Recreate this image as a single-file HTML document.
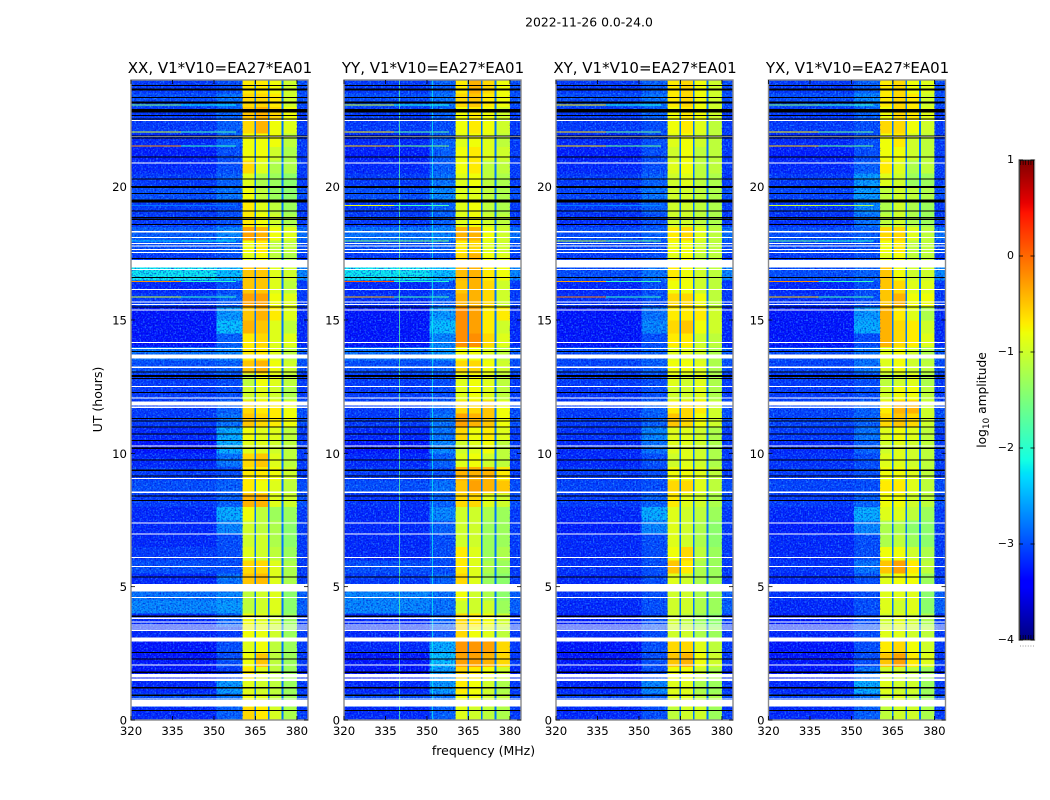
<!DOCTYPE html>
<html>
<head>
<meta charset="utf-8">
<title>2022-11-26 0.0-24.0</title>
<style>
html,body{margin:0;padding:0;background:#fff;}
svg{display:block;}
text{font-family:"DejaVu Sans","Liberation Sans",sans-serif;fill:#000;}
</style>
</head>
<body>
<svg id="chart" xmlns="http://www.w3.org/2000/svg" width="1050" height="800" viewBox="0 0 1050 800">
<defs>
<filter id="speckleLight" x="0" y="0" width="1" height="1"><feTurbulence type="fractalNoise" baseFrequency="0.6" numOctaves="1" seed="4"/><feColorMatrix type="matrix" values="0 0 0 0 0.05  0 0 0 0 0.5  0 0 0 0 1  2.6 0 0 0 -1.2"/></filter>
<filter id="speckleDark" x="0" y="0" width="1" height="1"><feTurbulence type="fractalNoise" baseFrequency="0.6" numOctaves="1" seed="11"/><feColorMatrix type="matrix" values="0 0 0 0 0  0 0 0 0 0  0 0 0 0 0.6  2.6 0 0 0 -1.2"/></filter>
</defs>
<text x="589" y="26.5" font-size="12.4" text-anchor="middle">2022-11-26 0.0-24.0</text>
<text x="483.5" y="755" font-size="12.5" text-anchor="middle">frequency (MHz)</text>
<text x="102" y="399.5" font-size="12.5" text-anchor="middle" transform="rotate(-90 102 399.5)">UT (hours)</text>
<text x="986" y="400" font-size="12.2" text-anchor="middle" transform="rotate(-90 986 400)">log<tspan font-size="9" dy="3">10</tspan><tspan dy="-3"> amplitude</tspan></text>
<g id="panels"></g>
<g id="colorbar"></g>
</svg>
<script>
// Axis domains and tick labels
const xTicks = [320, 335, 350, 365, 380];
const yTicks = [0, 5, 10, 15, 20];
const colorbarTicks = [-4, -3, -2, -1, 0, 1];
const panelTitles = ['XX, V1*V10=EA27*EA01', 'YY, V1*V10=EA27*EA01', 'XY, V1*V10=EA27*EA01', 'YX, V1*V10=EA27*EA01'];
const panelNames = ['xx', 'yy', 'xy', 'yx'];

// Frequency bin edges in MHz: low, blob, b1, gap, b2, gap, b3, gap, b4, edge
const bandEdges = [320, 351, 360.4, 364.6, 365.2, 369.5, 370.1, 374.5, 375.1, 380, 384];
const gapLevel = -2.8;
// Calibration applied to the low-amplitude and bright sub-band readings
const lowBandOffset = -0.1;
const brightBandOffset = -0.1;
// Each time row is 0.5 hours; index 0 starts at UT 0
const rowHours = 0.5;

const xxLow = [-3.1,-2.9,-3.1,-3.2,-3.2,-3.2,-3.1,-3.1,-2.6,-2.7,-3.1,-2.9,-3,-3.1,-3.1,-3.1,-3,-2.9,-3,-3.1,-3.2,-3.1,-3,-3,-3,-3,-2.9,-2.7,-3.2,-3.2,-3.2,-3,-3.1,-2.1,-3,-2.9,-2.8,-3,-3,-2.9,-3,-3.1,-3.15,-3.1,-3,-3,-2.9,-3];
const xxBlob = [-2.9,-2.8,-2.6,-3.1,-3,-3,-3.1,-2.9,-2.6,-2.7,-2.8,-3,-3,-3,-2.7,-2.5,-2.9,-2.9,-3,-2.8,-2.5,-2.5,-2.8,-2.9,-3,-3,-2.9,-2.7,-2.9,-2.4,-2.6,-2.9,-3,-2.4,-3,-2.9,-2.7,-3,-3,-2.8,-2.9,-3,-3,-2.9,-2.9,-2.9,-2.8,-3];
const xxB1 = [-0.5,-0.7,-0.8,-0.6,-0.7,-0.8,-0.7,-0.7,-1,-1,-0.4,-0.5,-0.8,-0.9,-0.9,-0.7,-0.3,-0.6,-0.6,-0.5,-0.8,-0.7,-0.4,-0.5,-0.9,-1,-0.4,-0.6,-0.6,-0.3,-0.4,-0.2,-0.4,-0.4,-0.8,-0.7,-0.2,-0.6,-0.6,-0.7,-0.8,-0.5,-0.7,-0.7,-0.5,-0.4,-0.5,-0.6];
const xxB2 = [-0.6,-0.8,-0.9,-0.8,-0.4,-0.7,-0.75,-0.8,-0.9,-0.9,-0.35,-0.5,-0.9,-0.9,-1,-1,-0.3,-0.7,-0.6,-0.4,-0.8,-0.8,-0.5,-0.6,-0.8,-0.7,-0.3,-0.6,-0.5,-0.4,-0.3,-0.2,-0.4,-0.4,-0.7,-0.6,-0.3,-0.7,-0.8,-1,-1.1,-0.8,-0.7,-0.7,-0.3,-0.3,-0.5,-0.6];
const xxB3 = [-0.85,-1,-1,-1,-1,-1,-0.9,-0.9,-0.8,-0.8,-0.8,-0.8,-1,-1.1,-1.1,-1.2,-0.8,-0.8,-0.7,-0.8,-0.9,-0.8,-0.6,-0.6,-0.9,-0.8,-0.7,-0.8,-0.8,-0.8,-0.6,-0.7,-0.8,-0.8,-1,-1,-0.7,-0.9,-1,-1.2,-1.2,-1.1,-0.9,-0.7,-0.7,-0.5,-0.6,-0.7];
const xxB4 = [-1.1,-1.2,-1.2,-1.2,-1.2,-1.2,-1.2,-1.2,-1.3,-1.3,-1.1,-1.1,-1.2,-1.3,-1.3,-1.2,-0.9,-1,-0.9,-1,-1,-1,-0.7,-0.7,-1.1,-1,-0.9,-1,-0.8,-1,-0.8,-0.8,-1,-0.9,-1.1,-1,-0.8,-1.1,-1.2,-1.3,-1.3,-1.1,-1.1,-1,-0.8,-0.7,-0.9,-0.9];

const yyLow = [-3.1,-2.9,-3.1,-3.2,-3.2,-3.1,-3.1,-3.1,-2.6,-2.6,-3,-2.9,-3.1,-3.1,-3.1,-3.1,-3.05,-2.9,-3,-3.1,-3.2,-3.1,-3,-3,-3,-3,-2.9,-2.7,-3.2,-3.2,-3.2,-3.05,-3.1,-2.1,-3,-2.9,-2.7,-3,-3,-2.9,-3,-3.1,-3.15,-3.1,-3,-3,-2.9,-3];
const yyBlob = [-2.9,-2.8,-2.6,-2.6,-2.4,-2.5,-3,-2.9,-2.8,-2.8,-2.9,-3,-3,-3,-2.9,-2.7,-2.9,-2.8,-3,-2.9,-2.7,-2.8,-2.8,-2.9,-3,-3,-2.9,-2.6,-2.7,-2.4,-2.6,-2.9,-3,-2.4,-3,-2.9,-2.7,-2.9,-2.9,-2.7,-2.8,-2.9,-2.9,-2.9,-3,-2.9,-2.8,-2.9];
const yyB1 = [-0.8,-0.7,-0.6,-0.5,-0.2,-0.15,-0.5,-0.5,-0.9,-0.7,-0.5,-0.6,-0.6,-0.9,-0.9,-0.9,-0.5,-0.4,-0.3,-0.8,-0.9,-0.5,-0.2,-0.5,-0.8,-0.8,-0.5,-0.7,-0.1,-0.1,-0.1,-0.3,-0.4,-0.35,-0.5,-0.6,-0.3,-0.8,-0.8,-0.8,-0.8,-0.7,-0.7,-0.8,-0.7,-0.7,-0.5,-0.6];
const yyB2 = [-0.9,-0.7,-0.7,-0.6,-0.2,-0.15,-0.7,-0.6,-0.9,-0.9,-0.8,-0.8,-0.8,-0.9,-0.9,-0.9,-0.5,-0.2,-0.3,-0.7,-0.8,-0.7,-0.3,-0.5,-0.7,-0.7,-0.5,-0.7,-0.1,-0.2,-0.2,-0.3,-0.3,-0.3,-0.3,-0.5,-0.3,-0.7,-0.7,-0.8,-0.7,-0.6,-0.6,-0.7,-0.6,-0.6,-0.4,-0.3];
const yyB3 = [-1,-0.9,-0.9,-0.7,-0.3,-0.2,-0.8,-0.7,-0.9,-1.1,-1.2,-1.1,-1.2,-1.2,-1.2,-1.1,-0.8,-0.3,-0.3,-0.9,-0.7,-0.6,-0.4,-0.4,-0.8,-0.8,-0.7,-0.8,-0.5,-0.6,-0.6,-0.5,-0.5,-0.6,-0.7,-0.8,-0.7,-0.9,-1,-1,-1,-1,-0.8,-0.8,-0.7,-0.7,-0.6,-0.5];
const yyB4 = [-1.1,-1,-1.1,-0.9,-0.5,-0.5,-1,-0.9,-1.2,-1.3,-1.3,-1.2,-1.1,-1.2,-1.2,-1.2,-0.9,-0.4,-0.6,-1,-1,-0.8,-0.7,-0.7,-1,-1,-0.9,-1,-0.8,-0.9,-0.6,-0.9,-0.9,-0.7,-0.8,-0.9,-0.9,-1,-1.1,-1.1,-1.1,-1,-0.9,-1,-0.9,-0.9,-0.7,-0.7];

const xyLow = [-3.1,-2.95,-3.1,-3.2,-3.2,-3.2,-3.1,-3.15,-3.1,-3.05,-3.1,-3.05,-3.1,-3.1,-3.15,-3.1,-3,-2.95,-3,-3.1,-3.1,-3.05,-3,-3,-3.05,-3,-2.95,-2.9,-3.2,-3.2,-3.2,-3.05,-3.1,-2.9,-3,-2.95,-2.9,-3.05,-3,-2.95,-3,-3.1,-3.15,-3.1,-3,-3,-2.9,-3];
const xyBlob = [-3,-2.9,-2.7,-3,-3,-3,-3,-3,-3,-3,-3,-3,-3,-3,-2.7,-2.5,-2.9,-3,-3,-3,-2.8,-2.7,-2.9,-2.9,-3,-3,-2.9,-2.9,-3,-2.7,-2.8,-3,-3,-2.8,-3,-3,-2.9,-3,-2.9,-2.8,-2.9,-3,-3,-3,-3,-2.9,-2.8,-2.9];
const xyB1 = [-1,-0.8,-0.8,-0.7,-0.4,-0.5,-0.9,-0.9,-0.9,-0.9,-0.8,-0.4,-0.7,-0.8,-0.8,-0.8,-0.6,-0.5,-0.7,-0.9,-0.8,-0.8,-0.4,-0.6,-0.9,-0.8,-0.7,-0.8,-0.6,-0.5,-0.6,-0.5,-0.7,-0.6,-0.8,-0.7,-0.6,-0.9,-0.9,-0.9,-0.9,-0.8,-0.9,-0.8,-0.7,-0.7,-0.6,-0.6];
const xyB2 = [-0.9,-0.8,-0.8,-0.7,-0.3,-0.5,-0.9,-1,-0.9,-0.9,-0.9,-0.6,-0.5,-0.9,-0.9,-0.9,-0.8,-0.5,-0.7,-0.8,-0.8,-0.8,-0.5,-0.5,-0.9,-0.9,-0.7,-0.8,-0.6,-0.4,-0.6,-0.5,-0.7,-0.7,-0.7,-0.7,-0.5,-0.9,-0.9,-0.9,-0.8,-0.7,-0.7,-0.7,-0.6,-0.6,-0.5,-0.5];
const xyB3 = [-0.9,-1,-1.1,-0.9,-0.7,-0.8,-1.1,-1.2,-1.1,-1.1,-1.1,-1.1,-1,-1.1,-1.1,-1,-0.9,-0.8,-0.8,-0.9,-0.9,-0.9,-0.7,-0.6,-0.8,-0.8,-0.8,-0.9,-0.9,-0.7,-0.6,-0.7,-0.9,-0.9,-1,-0.9,-0.8,-1,-1,-1,-1,-1,-1,-0.9,-0.8,-0.7,-0.7,-0.7];
const xyB4 = [-1.2,-1.1,-1.2,-1.1,-0.9,-1,-1.2,-1.3,-1.2,-1.2,-1.2,-1.2,-1.2,-1.3,-1.3,-1.2,-1.1,-1,-1,-1.1,-1.1,-1.1,-0.9,-0.9,-1.1,-1.1,-1.1,-1.1,-1,-0.9,-0.9,-1,-1,-1,-1,-1,-1,-1.1,-1.1,-1.1,-1.1,-1,-1,-1,-1,-0.9,-0.9,-0.9];

const yxLow = [-3.1,-2.95,-3.1,-3.2,-3.2,-3.2,-3.1,-3.15,-3.1,-3.05,-3.1,-3.05,-3.1,-3.1,-3.15,-3.1,-3,-2.95,-3,-3.05,-3.1,-3,-2.95,-2.95,-3,-3,-2.95,-2.9,-3.2,-3.2,-3.2,-3.05,-3.1,-2.9,-3,-2.95,-2.9,-3.05,-3,-2.95,-3,-3.1,-3.15,-3.1,-3,-3,-2.9,-3];
const yxBlob = [-2.9,-2.8,-2.5,-2.8,-3,-3,-3,-3,-3,-3,-3,-2.8,-3,-3,-2.7,-2.5,-2.9,-3,-3,-3,-2.9,-2.8,-2.9,-2.9,-3,-3,-2.8,-2.8,-3,-2.5,-2.6,-3,-3,-2.9,-3,-3,-2.9,-2.8,-2.7,-2.6,-2.6,-2.9,-3,-3,-3,-2.9,-2.7,-2.9];
const yxB1 = [-1,-0.9,-0.8,-0.9,-0.4,-0.6,-0.8,-0.9,-0.8,-0.8,-0.8,-0.4,-0.7,-1.1,-1.1,-0.8,-0.7,-0.6,-0.7,-0.8,-0.9,-0.8,-0.5,-0.6,-0.9,-1,-0.8,-0.8,-0.3,-0.3,-0.3,-0.4,-0.4,-0.4,-0.8,-0.7,-0.5,-1,-1.1,-1,-0.8,-0.6,-0.7,-0.7,-0.5,-0.7,-0.6,-0.6];
const yxB2 = [-0.9,-0.8,-0.9,-0.9,-0.2,-0.5,-0.8,-0.8,-0.9,-0.8,-0.7,-0.2,-0.7,-1,-1.1,-0.8,-0.7,-0.6,-0.7,-0.8,-0.8,-0.7,-0.4,-0.3,-0.7,-0.9,-0.7,-0.7,-0.5,-0.5,-0.6,-0.3,-0.5,-0.7,-0.7,-0.6,-0.5,-0.9,-0.9,-0.9,-0.9,-0.8,-0.7,-0.6,-0.5,-0.5,-0.5,-0.5];
const yxB3 = [-0.9,-1,-0.9,-1,-0.6,-0.7,-0.9,-0.9,-0.8,-0.8,-0.7,-0.6,-0.9,-1.2,-1.3,-1,-0.9,-0.8,-0.8,-0.9,-0.9,-0.8,-0.5,-0.3,-0.7,-0.8,-0.9,-0.9,-0.6,-0.6,-0.8,-0.7,-0.8,-0.9,-1,-1,-0.8,-1.1,-1.1,-1,-1.2,-1.1,-0.9,-0.9,-0.7,-0.6,-0.6,-0.7];
const yxB4 = [-1.1,-1.2,-1.2,-1.2,-0.8,-0.9,-1,-1.1,-1.3,-1.3,-1.2,-1,-1.1,-1.3,-1.3,-1.2,-1,-1,-1,-1,-1,-1,-0.9,-0.9,-1,-1.1,-1,-1.1,-0.8,-0.9,-1.1,-0.7,-0.8,-0.9,-1,-1,-1,-1.2,-1.2,-1.1,-1.2,-1,-1,-1,-0.9,-0.8,-0.9,-0.8];

const edgeLevels = [-3,-2.9,-3,-3.1,-3,-3,-3,-3,-2.8,-2.8,-3,-3,-3,-3,-3,-3,-2.9,-2.9,-3,-3,-3,-3,-2.9,-2.9,-3,-3,-2.9,-2.8,-3.1,-3.1,-3.1,-3,-3,-2.6,-3,-2.9,-2.7,-3,-3,-2.9,-3,-3,-3,-3,-3,-3,-2.9,-2.9];

// Narrowband RFI rows: UT hour, amplitude in 320-338 MHz and 338-358 MHz
const rfiHours = [23.06, 22.05, 21.52, 19.3, 17.97, 16.44, 15.87];
const xxRfiLeft = [-1.5,-1,-0.2,-2.8,-2.4,-0.2,-1];
const xxRfiRight = [-2.2,-1.8,-1.9,-2.8,-2.2,-2,-1.9];
const yyRfiLeft = [-1,-0.7,-0.5,-0.8,-1.5,0.1,-0.4];
const yyRfiRight = [-2.1,-1.7,-1.5,-1.8,-1.5,-2,-1.8];
const xyRfiLeft = [-0.7,-0.6,-0.6,-2.8,-1.1,-0.3,-0.1];
const xyRfiRight = [-2.1,-1.6,-1.6,-2.7,-1.6,-1.9,-1.9];
const yxRfiLeft = [-1.5,-0.7,-0.5,-1,-1.7,-0.2,-0.5];
const yxRfiRight = [-1.9,-1.6,-1.6,-1.2,-2,-1.9,-1.8];
const rfiSplitsMHz = [320, 338, 358];

// Persistent vertical RFI in YY only
const yyVerticalFreqs = [339.9, 351.8];
const yyVerticalLevels = [-1.7, -2.2];

// Flagged (no data) time ranges [start, end] in UT hours
const flaggedHours = [[22.47,22.5],[21.86,21.9],[20.89,20.91],[18.29,18.33],[18.07,18.11],[17.85,17.89],[17.76,17.79],[17.63,17.66],[17.52,17.55],[16.96,17.25],[16.89,16.92],[16.14,16.17],[15.66,15.69],[15.56,15.6],[15.36,15.39],[14.15,14.18],[13.92,13.95],[13.56,13.71],[13.22,13.25],[12.5,12.53],[12.08,12.09],[11.79,11.94],[11.72,11.75],[10.27,10.3],[9.05,9.08],[8.52,8.56],[7.39,7.41],[6.98,7],[6.09,6.12],[5.75,5.78],[4.81,5.1],[4.58,4.61],[3.79,3.85],[3.66,3.69],[3.56,3.59],[3.49,3.51],[3.41,3.44],[3.35,3.38],[2.95,3.1],[2.06,2.09],[1.6,1.73],[1.47,1.55],[0.79,0.81],[0.5,0.75]];
// Zero-amplitude time ranges [start, end] in UT hours
const zeroHours = [[23.78,23.81],[23.61,23.69],[23.33,23.36],[23.11,23.19],[22.79,22.91],[22.65,22.69],[22.52,22.56],[21.9,21.92],[21.82,21.85],[21.1,21.14],[20.27,20.31],[19.95,20.03],[19.73,19.76],[19.4,19.51],[19.07,19.11],[18.83,18.86],[18.77,18.8],[18.56,18.6],[17.28,17.33],[16.58,16.61],[15.47,15.51],[13.8,13.84],[13.04,13.07],[12.86,12.94],[12.79,12.83],[12.26,12.3],[11.29,11.33],[11.2,11.23],[10.99,11.01],[10.73,10.75],[10.46,10.5],[10.16,10.21],[9.74,9.77],[9.34,9.39],[9.14,9.17],[8.39,8.42],[8.21,8.25],[5.36,5.39],[3.89,3.91],[2.51,2.55],[2.28,2.31],[1.77,1.81],[1.2,1.23],[0.91,0.95],[0.34,0.38]];

const panelLows = [xxLow, yyLow, xyLow, yxLow];
const panelBlobs = [xxBlob, yyBlob, xyBlob, yxBlob];
const panelB1 = [xxB1, yyB1, xyB1, yxB1];
const panelB2 = [xxB2, yyB2, xyB2, yxB2];
const panelB3 = [xxB3, yyB3, xyB3, yxB3];
const panelB4 = [xxB4, yyB4, xyB4, yxB4];
const panelRfiLeft = [xxRfiLeft, yyRfiLeft, xyRfiLeft, yxRfiLeft];
const panelRfiRight = [xxRfiRight, yyRfiRight, xyRfiRight, yxRfiRight];

const SVGNS = 'http://www.w3.org/2000/svg';
const panelLeft = [131, 344, 556, 768.5];
const panelWidth = 177, plotTop = 80, plotBottom = 720;
const xMin = 320, xMax = 384, yMin = 0, yMax = 24;
const colorMin = -4, colorMax = 1;

function xScale(left, f) { return left + (f - xMin) / (xMax - xMin) * panelWidth; }
function yScale(h) { return plotBottom - (h - yMin) / (yMax - yMin) * (plotBottom - plotTop); }
function clamp01(v) { return Math.max(0, Math.min(1, v)); }
function jet(level) {
  const t = clamp01((level - colorMin) / (colorMax - colorMin));
  const seg = (pts) => {
    for (let i = 1; i < pts.length; i++) {
      if (t <= pts[i][0]) {
        return pts[i-1][1] + (t - pts[i-1][0]) / (pts[i][0] - pts[i-1][0]) * (pts[i][1] - pts[i-1][1]);
      }
    }
    return pts[pts.length-1][1];
  };
  const r = seg([[0,0],[0.35,0],[0.66,1],[0.89,1],[1,0.5]]);
  const g = seg([[0,0],[0.125,0],[0.375,1],[0.64,1],[0.91,0],[1,0]]);
  const b = seg([[0,0.5],[0.11,1],[0.34,1],[0.65,0],[1,0]]);
  return 'rgb(' + Math.round(r*255) + ',' + Math.round(g*255) + ',' + Math.round(b*255) + ')';
}
function make(tag, attrs, parent) {
  const el = document.createElementNS(SVGNS, tag);
  for (const k in attrs) el.setAttribute(k, attrs[k]);
  parent.appendChild(el);
  return el;
}

const root = document.getElementById('panels');
panelNames.forEach((name, p) => {
  const left = panelLeft[p];
  const g = make('g', {}, root);
  
  

  const title = make('text', {x: left + panelWidth / 2 + 0.5, y: 73, 'font-size': 15, 'text-anchor': 'middle'}, g);
  title.textContent = panelTitles[p];
  
  

  const clipId = 'clip-' + name;
  const clip = make('clipPath', {id: clipId}, g);
  make('rect', {x: left, y: plotTop, width: panelWidth, height: plotBottom - plotTop}, clip);

  const heat = make('g', {'shape-rendering': 'crispEdges', 'clip-path': 'url(#' + clipId + ')'}, g);
  
  

  const columns = [panelLows[p], panelBlobs[p], panelB1[p], null, panelB2[p], null, panelB3[p], null, panelB4[p], edgeLevels];
  columns.forEach((series, c) => {
    const x0 = xScale(left, bandEdges[c]);
    const x1 = xScale(left, bandEdges[c + 1]);
    const isBright = (c >= 2 && c <= 8);
    const offset = series === null ? 0 : (isBright ? brightBandOffset : (c === 1 ? 0 : lowBandOffset));
    for (let r = 0; r < panelLows[p].length; r++) {
      const level = (series ? series[r] : gapLevel) + offset;
      const yTop = yScale((r + 1) * rowHours);
      const yBot = yScale(r * rowHours);
      const cell = make('rect', {x: x0, y: yTop, width: x1 - x0 + 0.4, height: yBot - yTop + 0.4, fill: jet(level)}, heat);
      
      
    }
  });

  // Fine channel texture over the low-amplitude sub-bands
  [[bandEdges[0], bandEdges[2], 'speckleLight', 0.7], [bandEdges[0], bandEdges[2], 'speckleDark', 0.75], [bandEdges[9], bandEdges[10], 'speckleLight', 0.7], [bandEdges[9], bandEdges[10], 'speckleDark', 0.75]].forEach(tx => {
    const t = make('rect', {x: xScale(left, tx[0]), y: plotTop, width: xScale(left, tx[1]) - xScale(left, tx[0]), height: plotBottom - plotTop, filter: 'url(#' + tx[2] + ')', opacity: tx[3]}, g);
    
    
  });

  const marks = make('g', {'shape-rendering': 'crispEdges'}, g);
  
  

  rfiHours.forEach((h, i) => {
    [panelRfiLeft[p][i], panelRfiRight[p][i]].forEach((level, s) => {
      const x0 = xScale(left, rfiSplitsMHz[s]);
      const x1 = xScale(left, rfiSplitsMHz[s + 1]);
      const line = make('rect', {x: x0, y: yScale(h) - 0.5, width: x1 - x0, height: 1, fill: jet(level)}, marks);
      
      
    });
  });

  if (name === 'yy') {
    yyVerticalFreqs.forEach((f, i) => {
      const v = make('rect', {x: xScale(left, f), y: plotTop, width: 1, height: plotBottom - plotTop, fill: jet(yyVerticalLevels[i]), opacity: 0.75}, marks);
      
      
    });
  }

  flaggedHours.forEach(range => {
    const yTop = yScale(range[1]);
    const band = make('rect', {x: left, y: yTop, width: panelWidth, height: Math.max(1.1, yScale(range[0]) - yTop), fill: '#fff'}, marks);
    
    
  });
  zeroHours.forEach(range => {
    const yTop = yScale(range[1]);
    const band = make('rect', {x: left, y: yTop, width: panelWidth, height: Math.max(1.1, yScale(range[0]) - yTop), fill: '#000'}, marks);
    
    
  });

  const frame = make('rect', {x: left, y: plotTop, width: panelWidth, height: plotBottom - plotTop, fill: 'none', stroke: '#8a8a8a', 'stroke-width': 1.4}, g);
  
  

  xTicks.forEach(v => {
    const x = xScale(left, v);
    make('line', {x1: x, x2: x, y1: plotBottom, y2: plotBottom - 4, stroke: '#000', 'stroke-width': 0.8}, g);
    make('line', {x1: x, x2: x, y1: plotTop, y2: plotTop + 4, stroke: '#000', 'stroke-width': 0.8}, g);
    const label = make('text', {x: x, y: 735, 'font-size': 11.7, 'text-anchor': 'middle'}, g);
    label.textContent = String(v);
    
    
  });
  yTicks.forEach(v => {
    const y = yScale(v);
    make('line', {x1: left, x2: left + 4, y1: y, y2: y, stroke: '#000', 'stroke-width': 0.8}, g);
    make('line', {x1: left + panelWidth, x2: left + panelWidth - 4, y1: y, y2: y, stroke: '#000', 'stroke-width': 0.8}, g);
    const label = make('text', {x: left - 4, y: y + 4.5, 'font-size': 11.7, 'text-anchor': 'end'}, g);
    label.textContent = String(v);
    
    
  });
});

// Colorbar
const cb = document.getElementById('colorbar');
const cbLeft = 1019, cbWidth = 15.5, cbTop = 160, cbBottom = 640;
function cbScale(v) { return cbBottom - (v - colorMin) / (colorMax - colorMin) * (cbBottom - cbTop); }
const cbGroup = make('g', {'shape-rendering': 'crispEdges'}, cb);
for (let y = cbTop; y < cbBottom; y++) {
  const v = colorMax - (y + 0.5 - cbTop) / (cbBottom - cbTop) * (colorMax - colorMin);
  make('rect', {x: cbLeft, y: y, width: cbWidth, height: 1.2, fill: jet(v)}, cbGroup);
}
const cbFrame = make('rect', {x: cbLeft, y: cbTop, width: cbWidth, height: cbBottom - cbTop, fill: 'none', stroke: '#8a8a8a', 'stroke-width': 1.4}, cb);


make('rect', {x: cbLeft + 0.8, y: cbTop + 0.5, width: cbWidth - 1.6, height: cbBottom - cbTop - 1, fill: 'none', stroke: '#000', 'stroke-width': 0.6}, cb);
colorbarTicks.forEach(v => {
  const y = cbScale(v);
  make('line', {x1: cbLeft, x2: cbLeft + 4, y1: y, y2: y, stroke: '#000', 'stroke-width': 0.8}, cb);
  make('line', {x1: cbLeft + cbWidth, x2: cbLeft + cbWidth - 4, y1: y, y2: y, stroke: '#000', 'stroke-width': 0.8}, cb);
  const label = make('text', {x: cbLeft - 5, y: y + 3, 'font-size': 11, 'text-anchor': 'end'}, cb);
  label.textContent = (v < 0 ? '\u2212' + Math.abs(v) : String(v));
  
  
});
for (let i = 0; i < 6; i++) {
  const x = cbLeft + 1.5 + i * 2.6;
  make('line', {x1: x, x2: x, y1: cbTop, y2: cbTop + 5, stroke: '#000', 'stroke-width': 0.6}, cb);
  make('line', {x1: x, x2: x, y1: cbBottom, y2: cbBottom - 5, stroke: '#000', 'stroke-width': 0.6}, cb);
  make('rect', {x: x - 0.5, y: 645.5, width: 1, height: 1, fill: '#999'}, cb);
}
</script>
</body>
</html>
